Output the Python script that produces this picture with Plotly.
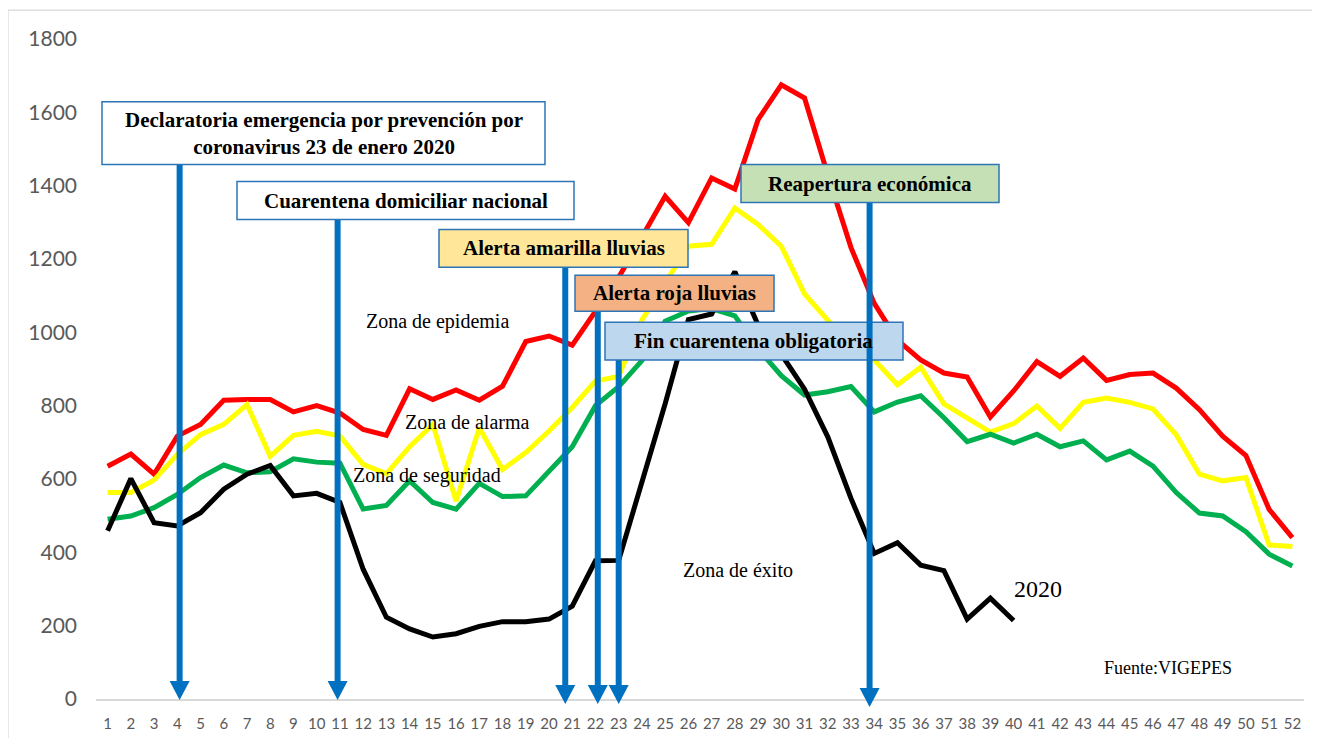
import plotly.graph_objects as go

# ---------------- data ----------------
weeks = list(range(1, 53))
weeks_2020 = list(range(1, 41))

zona_epidemia = [635, 668, 613, 717, 749, 815, 817, 817, 783, 800, 780, 735, 719, 846, 817, 843,
                 815, 853, 975, 990, 965, 1060, 1150, 1260, 1371, 1299, 1421, 1391, 1580, 1675,
                 1639, 1430, 1231, 1079, 979, 925, 889, 878, 769, 840, 920, 880, 930, 869, 885,
                 889, 848, 789, 717, 664, 517, 440]
zona_alarma = [563, 563, 597, 667, 721, 749, 803, 662, 719, 730, 717, 640, 614, 688, 749, 540,
               740, 626, 672, 731, 795, 867, 880, 1034, 1135, 1235, 1240, 1339, 1294, 1235,
               1105, 1033, 975, 925, 857, 905, 805, 767, 728, 751, 799, 738, 809, 821, 809,
               791, 721, 613, 595, 604, 420, 416]
zona_seguridad = [490, 499, 522, 558, 604, 638, 617, 620, 655, 646, 643, 518, 528, 595, 536, 518,
                  588, 552, 554, 622, 688, 800, 852, 923, 1030, 1058, 1065, 1045, 955, 882,
                  829, 838, 852, 783, 810, 827, 767, 702, 722, 698, 722, 688, 704, 652, 676,
                  635, 563, 507, 499, 456, 395, 363]
casos_2020 = [459, 601, 481, 472, 508, 572, 613, 637, 554, 561, 536, 354, 223, 191, 169, 178,
              198, 211, 211, 218, 253, 377, 378, 590, 805, 1035, 1050, 1165, 1020, 940,
              845, 715, 547, 397, 426, 365, 350, 218, 275, 214]

y_ticks = [0, 200, 400, 600, 800, 1000, 1200, 1400, 1600, 1800]

event_labels = [
    "Declaratoria emergencia por prevención por<br>coronavirus 23 de enero 2020",
    "Cuarentena domiciliar nacional",
    "Alerta amarilla lluvias",
    "Alerta roja lluvias",
    "Fin cuarentena obligatoria",
    "Reapertura económica",
]
event_weeks = [4.1, 10.9, 20.7, 22.1, 23.0, 33.8]
event_fills = ["#FFFFFF", "#FFFFFF", "#FFE699", "#F4B183", "#BDD7EE", "#C5E0B4"]

# ---------------- layout helpers (screen pixels -> paper) ----------------
OFF = 8  # page body margin of the rendered html
W, H = 1320 - 2 * OFF, 748 - 2 * OFF
PL, PR, PT, PB = 96, 1304, 39, 701   # plot area in screen pixels
XMIN, XMAX = 0.5, 52.5


def fx(px):
    return (px - PL) / (PR - PL)


def fy(py):
    return (PB - py) / (PB - PT)


def wx(week):
    return (week - XMIN) / (XMAX - XMIN)


# event boxes in screen pixels (x0, y0, x1, y1)
boxes_px = [
    (102, 102, 545, 165),
    (237, 182, 574, 220),
    (439, 230, 688, 268),
    (575, 276, 774, 312),
    (605, 323, 903, 361),
    (741, 165, 999, 203),
]
arrow_tip_px = [702, 702, 706, 706, 706, 709]

BLUE = "#0070C0"
BORDER = "#2E75B6"

fig = go.Figure()

series = [
    (weeks, zona_epidemia, "#FF0000", "Zona de epidemia"),
    (weeks, zona_alarma, "#FFFF00", "Zona de alarma"),
    (weeks, zona_seguridad, "#00B050", "Zona de seguridad"),
    (weeks_2020, casos_2020, "#000000", "2020"),
]
for xs, ys, col, name in series:
    fig.add_trace(go.Scatter(x=xs, y=ys, mode="lines", name=name,
                             line=dict(color=col, width=5), hoverinfo="x+y"))

shapes = []
# chart outer border (top and left edges visible in the picture)
shapes.append(dict(type="line", xref="paper", yref="paper",
                   x0=fx(8), x1=fx(1312), y0=fy(10), y1=fy(10),
                   line=dict(color="#D9D9D9", width=1.2), layer="below"))
shapes.append(dict(type="line", xref="paper", yref="paper",
                   x0=fx(8), x1=fx(8), y0=fy(10), y1=fy(740),
                   line=dict(color="#D9D9D9", width=1.2), layer="below"))

annotations = []
for i, lab in enumerate(event_labels):
    x0, y0, x1, y1 = boxes_px[i]
    ax = wx(event_weeks[i])
    tip = arrow_tip_px[i]
    head_h = 19
    hw = 10 / (PR - PL)
    shapes.append(dict(type="line", xref="paper", yref="paper",
                       x0=ax, x1=ax, y0=fy(y1), y1=fy(tip - head_h + 2),
                       line=dict(color=BLUE, width=6)))
    shapes.append(dict(type="path", xref="paper", yref="paper",
                       path=f"M {ax - hw},{fy(tip - head_h)} L {ax + hw},{fy(tip - head_h)} L {ax},{fy(tip)} Z",
                       fillcolor=BLUE, line=dict(color=BLUE, width=0)))
    shapes.append(dict(type="rect", xref="paper", yref="paper",
                       x0=fx(x0), x1=fx(x1), y0=fy(y1), y1=fy(y0),
                       fillcolor=event_fills[i], line=dict(color=BORDER, width=1.5)))
    annotations.append(dict(xref="paper", yref="paper",
                            x=fx((x0 + x1) / 2), y=fy((y0 + y1) / 2),
                            text=f"<b>{lab}</b>", showarrow=False,
                            xanchor="center", yanchor="middle",
                            font=dict(family="Liberation Serif", size=21, color="#000000")))

zone_texts = [
    ("Zona de epidemia", 437, 322, 20),
    ("Zona de alarma", 467, 423, 20),
    ("Zona de seguridad", 427, 477, 20),
    ("Zona de éxito", 738, 572, 20),
    ("2020", 1038, 591, 24),
    ("Fuente:VIGEPES", 1168, 670, 18),
]
for txt, px, py, sz in zone_texts:
    annotations.append(dict(xref="paper", yref="paper", x=fx(px), y=fy(py), text=txt,
                            showarrow=False, xanchor="center", yanchor="middle",
                            font=dict(family="Liberation Serif", size=sz, color="#000000")))

fig.update_layout(
    width=W, height=H,
    margin=dict(l=PL - OFF, r=W - (PR - OFF), t=PT - OFF, b=H - (PB - OFF), pad=0),
    paper_bgcolor="#FFFFFF", plot_bgcolor="#FFFFFF",
    showlegend=False,
    shapes=shapes,
    annotations=annotations,
    xaxis=dict(range=[XMIN, XMAX], tickmode="array", tickvals=weeks,
               ticktext=[str(w) for w in weeks], showgrid=False, zeroline=False,
               showline=True, linecolor="#D9D9D9", linewidth=2, ticks="",
               ticklabelstandoff=10,
               tickfont=dict(family="Lato", size=15, color="#595959")),
    yaxis=dict(range=[0, 1800], tickmode="array", tickvals=y_ticks,
               ticktext=[str(v) for v in y_ticks], showgrid=False, zeroline=False,
               showline=False, ticks="", ticklabelstandoff=18,
               tickfont=dict(family="Lato", size=21, color="#595959")),
)

fig.write_html("out.html")
